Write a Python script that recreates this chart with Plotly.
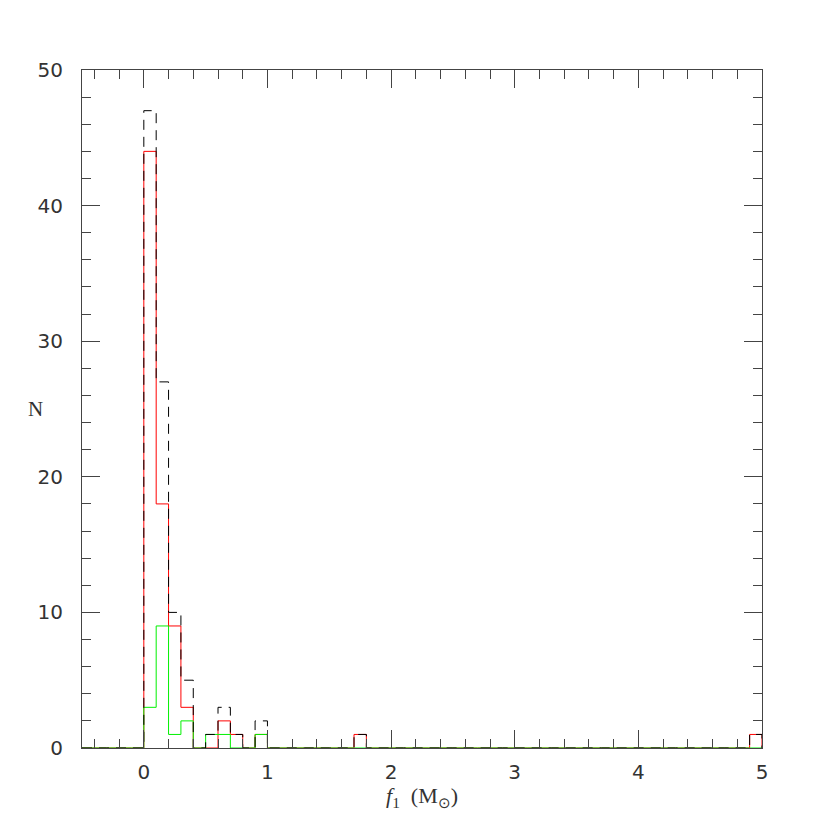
import numpy as np
import plotly.graph_objects as go

# Bin edges: -0.5 .. 5.0 in steps of 0.1 (55 bins)
bin_edges = [round(-0.5 + 0.1 * i, 1) for i in range(56)]

def counts_from(d):
    c = [0] * 55
    for k, v in d.items():
        c[k] = v
    return c

# bin index i -> [ -0.5+0.1*i , -0.4+0.1*i )
total_counts = counts_from({5: 47, 6: 27, 7: 10, 8: 5, 10: 1, 11: 3, 12: 1, 14: 2, 22: 1, 54: 1})
red_counts = counts_from({5: 44, 6: 18, 7: 9, 8: 3, 11: 2, 12: 1, 14: 1, 22: 1, 54: 1})
green_counts = counts_from({5: 3, 6: 9, 7: 1, 8: 2, 10: 1, 11: 1, 14: 1})

x_ticks = [0, 1, 2, 3, 4, 5]
y_ticks = [0, 10, 20, 30, 40, 50]


def step_xy(counts):
    xs = list(bin_edges[:-1]) + [bin_edges[-1], bin_edges[-1]]
    ys = list(counts) + [counts[-1], 0]
    return xs, ys


fig = go.Figure()
for counts, color, dash in [
    (red_counts, "#ff0000", "solid"),
    (green_counts, "#00f000", "solid"),
    (total_counts, "#000000", "10px,7px"),
]:
    xs, ys = step_xy(counts)
    fig.add_trace(go.Scatter(x=xs, y=ys, mode="lines", line_shape="hv",
                             line=dict(color=color, width=1, dash=dash),
                             hoverinfo="skip", showlegend=False))

axis_common = dict(
    showgrid=False, zeroline=False, showline=True, linecolor="#444", linewidth=1,
    mirror="allticks", ticks="inside", ticklen=18, tickwidth=1, tickcolor="#444",
    tickfont=dict(family="DejaVu Sans", size=20, color="#333"), automargin=False,
)

fig.update_xaxes(range=[-0.5, 5], tickvals=x_ticks, ticktext=[str(v) for v in x_ticks],
                 minor=dict(ticks="inside", ticklen=9, dtick=0.2, tick0=0, tickcolor="#444", showgrid=False),
                 ticklabelstandoff=6, **axis_common)
fig.update_yaxes(range=[0, 50], tickvals=y_ticks, ticktext=[str(v) for v in y_ticks],
                 minor=dict(ticks="inside", ticklen=9, dtick=2, tick0=0, tickcolor="#444", showgrid=False),
                 ticklabelstandoff=14, **axis_common)

fig.add_annotation(text="N", xref="paper", yref="paper", x=-0.055, y=0.5,
                   xanchor="right", yanchor="middle", showarrow=False,
                   font=dict(family="Liberation Serif", size=21, color="#333"))
fig.add_annotation(text="<i>f</i><sub>1</sub>  (M<sub>⊙</sub>)", xref="paper", yref="paper",
                   x=0.5, y=-0.048, xanchor="center", yanchor="top", showarrow=False,
                   font=dict(family="Liberation Serif", size=22, color="#333"))

# the page body adds an 8px offset; margins compensate so the frame sits at 82..762 x 70..748
fig.update_layout(width=830, height=830, margin=dict(l=74, r=76, t=62, b=90),
                  plot_bgcolor="white", paper_bgcolor="white")

fig.write_html("out.html")
